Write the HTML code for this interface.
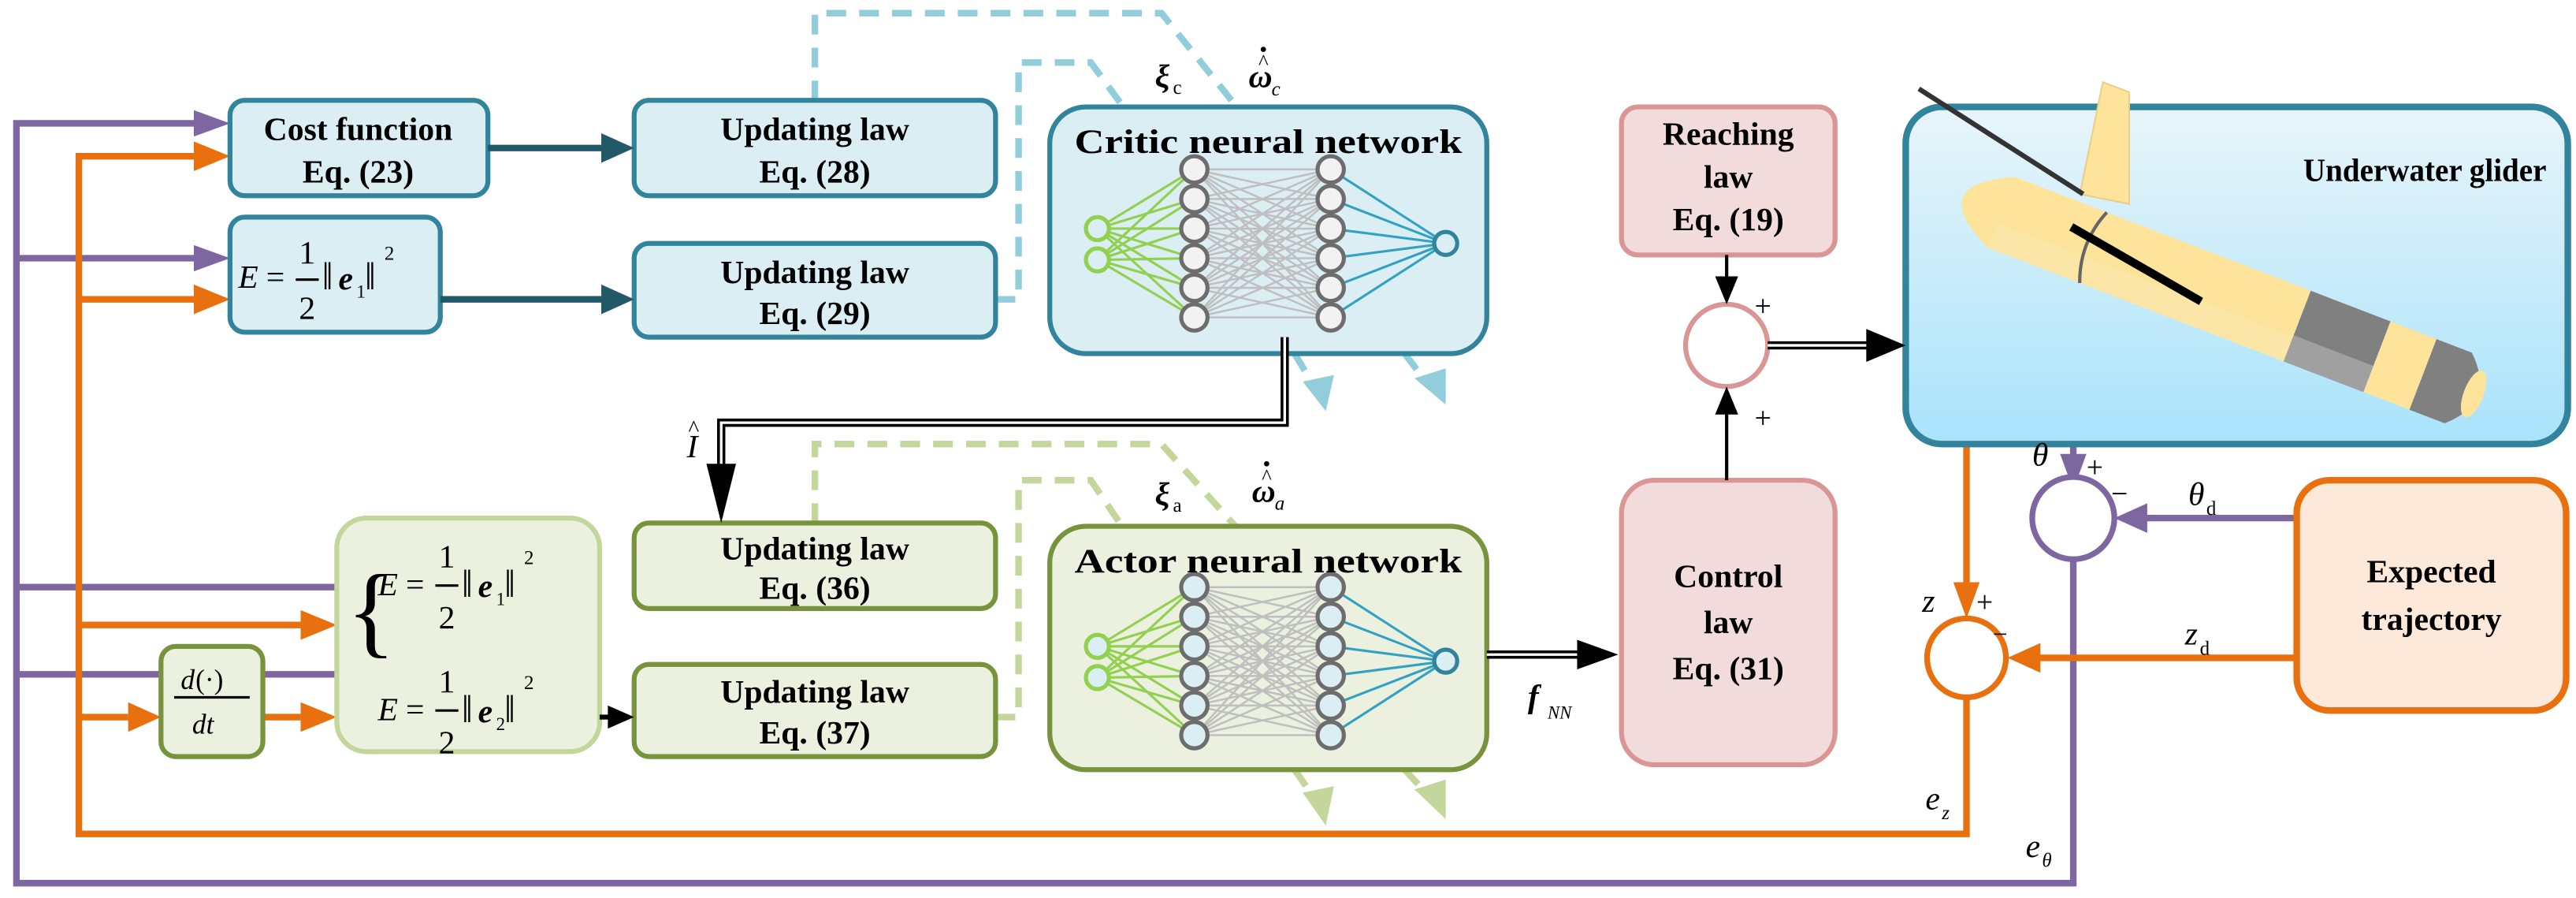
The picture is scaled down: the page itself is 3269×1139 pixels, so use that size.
<!DOCTYPE html>
<html><head><meta charset="utf-8"><style>
html,body{margin:0;padding:0;background:#fff;}
svg{display:block;}
</style></head><body>
<svg width="3269" height="1139" viewBox="0 0 1568 546" preserveAspectRatio="none" xmlns="http://www.w3.org/2000/svg" font-family="Liberation Serif, serif">
<defs>
<linearGradient id="gl" x1="0" y1="0" x2="0" y2="1"><stop offset="0" stop-color="#e8f5fa"/><stop offset="1" stop-color="#a9e3fb"/></linearGradient>
</defs>

<!-- purple feedback -->
<g stroke="#7e66a0" stroke-width="4" fill="none">
<polyline points="1262,340 1262,537 10,537 10,75 118,75"/>
<line x1="10" y1="157" x2="118" y2="157"/>
<line x1="10" y1="357" x2="205" y2="357"/>
<line x1="10" y1="410" x2="205" y2="410"/>
<line x1="1262" y1="270" x2="1262" y2="278"/>
<line x1="1398" y1="315" x2="1305" y2="315"/>
</g>
<g fill="#7e66a0">
<path d="M118,67 L140,75 L118,83z"/><path d="M118,149 L140,157 L118,165z"/>
<path d="M1254,276 L1270,276 L1262,298z"/>
<path d="M1307,306 L1307,324 L1287,315z"/>
</g>
<!-- orange feedback -->
<g stroke="#e8700f" stroke-width="4" fill="none">
<polyline points="1197,425 1197,507 48,507 48,95 118,95"/>
<line x1="48" y1="182" x2="118" y2="182"/>
<line x1="48" y1="380" x2="183" y2="380"/>
<line x1="48" y1="436" x2="78" y2="436"/>
<line x1="160" y1="436" x2="183" y2="436"/>
<line x1="1197" y1="270" x2="1197" y2="356"/>
<line x1="1398" y1="400" x2="1240" y2="400"/>
</g>
<g fill="#e8700f">
<path d="M118,86 L140,95 L118,104z"/><path d="M118,173 L140,182 L118,191z"/>
<path d="M183,371 L205,380 L183,389z"/><path d="M78,427 L98,436 L78,445z"/><path d="M183,427 L205,436 L183,445z"/>
<path d="M1189,354 L1205,354 L1197,376z"/>
<path d="M1242,391 L1242,409 L1222,400z"/>
</g>

<!-- dashed blue -->
<g stroke="#92cddc" stroke-width="4" fill="none" stroke-dasharray="12,8">
<polyline points="496,61 496,8 707,8 752,64"/>
<polyline points="606,182 620,182 620,38 664,38 683,64"/>
<line x1="788" y1="215" x2="800" y2="235"/>
<line x1="855" y1="215" x2="868" y2="232"/>
</g>
<g fill="#92cddc"><path d="M793,232 L812,228 L807,250z"/><path d="M861,230 L880,224 L880,246z"/></g>
<!-- dashed green -->
<g stroke="#c3d69b" stroke-width="4" fill="none" stroke-dasharray="12,8">
<polyline points="496,318 496,270 707,270 752,320"/>
<polyline points="606,436 620,436 620,292 664,292 683,320"/>
<line x1="788" y1="468" x2="800" y2="485"/>
<line x1="855" y1="468" x2="868" y2="482"/>
</g>
<g fill="#c3d69b"><path d="M793,482 L812,478 L807,502z"/><path d="M861,480 L880,474 L880,498z"/></g>

<!-- boxes blue -->
<g fill="#dbeef4" stroke="#31849b" stroke-width="3">
<rect x="140" y="61" width="157" height="58" rx="9"/>
<rect x="386" y="61" width="220" height="58" rx="9"/>
<rect x="140" y="132" width="128" height="70" rx="9"/>
<rect x="386" y="148" width="220" height="57" rx="9"/>
<rect x="639" y="65" width="266" height="150" rx="22"/>
</g>
<!-- boxes green -->
<g fill="#ebf1de" stroke="#77933c" stroke-width="3">
<rect x="386" y="318" width="220" height="52" rx="9"/>
<rect x="386" y="404" width="220" height="56" rx="9"/>
<rect x="98" y="393" width="62" height="67" rx="9"/>
<rect x="639" y="320" width="266" height="148" rx="22"/>
</g>
<rect x="205" y="315" width="160" height="142" rx="18" fill="#ebf1de" stroke="#c3d69b" stroke-width="3"/>
<!-- pink -->
<g fill="#f2dcdb" stroke="#d99694" stroke-width="3">
<rect x="987" y="65" width="130" height="90" rx="10"/>
<rect x="987" y="292" width="130" height="173" rx="20"/>
</g>
<circle cx="1051" cy="210" r="25" fill="#fff" stroke="#d99694" stroke-width="3"/>
<rect x="1160" y="65" width="403" height="205" rx="22" fill="url(#gl)" stroke="#31849b" stroke-width="4"/>
<rect x="1398" y="292" width="164" height="140" rx="20" fill="#fde9d9" stroke="#e8700f" stroke-width="4"/>
<circle cx="1262" cy="315" r="25" fill="#fff" stroke="#7e66a0" stroke-width="3.5"/>
<circle cx="1197" cy="400" r="24" fill="#fff" stroke="#e8700f" stroke-width="3.5"/>

<!-- dark arrows -->
<g stroke="#215968" stroke-width="4"><line x1="297" y1="90" x2="370" y2="90"/><line x1="268" y1="182" x2="370" y2="182"/></g>
<g fill="#215968"><path d="M366,81 L386,90 L366,99z"/><path d="M366,173 L386,182 L366,191z"/></g>
<g stroke="#000" stroke-width="2"><line x1="365" y1="436" x2="372" y2="436" stroke-width="3"/><line x1="1051" y1="155" x2="1051" y2="172"/><line x1="1051" y1="292" x2="1051" y2="250"/></g>
<g fill="#000"><path d="M370,429 L386,436 L370,443z"/><path d="M1044,168 L1058,168 L1051,185z"/><path d="M1044,252 L1058,252 L1051,235z"/></g>
<!-- double lines -->
<g stroke="#000" stroke-width="5" fill="none"><polyline points="782,205 782,257 439,257 439,285"/><line x1="905" y1="398" x2="962" y2="398"/><line x1="1076" y1="210" x2="1138" y2="210"/></g>
<g stroke="#fff" stroke-width="1.6" fill="none"><polyline points="782,205 782,257 439,257 439,283"/><line x1="905" y1="398" x2="962" y2="398"/><line x1="1076" y1="210" x2="1138" y2="210"/></g>
<g fill="#000"><path d="M430,282 L448,282 L439,318z"/><path d="M960,389 L985,398 L960,407z"/><path d="M1136,200 L1160,210 L1136,220z"/></g>

<!-- neural nets -->
<g>
<g stroke="#92d050" stroke-width="1.5">
<path d="M668,139L727,103M668,139L727,121M668,139L727,139M668,139L727,157M668,139L727,175M668,139L727,193M668,158L727,103M668,158L727,121M668,158L727,139M668,158L727,157M668,158L727,175M668,158L727,193"/>
</g>
<g stroke="#bfbfbf" stroke-width="1.2">
<path d="M727,103L810,103M727,103L810,121M727,103L810,139M727,103L810,157M727,103L810,175M727,103L810,193M727,121L810,103M727,121L810,121M727,121L810,139M727,121L810,157M727,121L810,175M727,121L810,193M727,139L810,103M727,139L810,121M727,139L810,139M727,139L810,157M727,139L810,175M727,139L810,193M727,157L810,103M727,157L810,121M727,157L810,139M727,157L810,157M727,157L810,175M727,157L810,193M727,175L810,103M727,175L810,121M727,175L810,139M727,175L810,157M727,175L810,175M727,175L810,193M727,193L810,103M727,193L810,121M727,193L810,139M727,193L810,157M727,193L810,175M727,193L810,193"/>
</g>
<g stroke="#31a2c4" stroke-width="1.5">
<path d="M810,103L880,148M810,121L880,148M810,139L880,148M810,157L880,148M810,175L880,148M810,193L880,148"/>
</g>
<g fill="#dbeef4" stroke-width="2.5"><circle cx="668" cy="139" r="7" stroke="#92d050"/><circle cx="668" cy="158" r="7" stroke="#92d050"/><circle cx="880" cy="148" r="7" stroke="#31849b"/></g>
<g fill="#f2f2f2" stroke="#6d6d6d" stroke-width="2.5">
<circle cx="727" cy="103" r="8"/><circle cx="727" cy="121" r="8"/><circle cx="727" cy="139" r="8"/><circle cx="727" cy="157" r="8"/><circle cx="727" cy="175" r="8"/><circle cx="727" cy="193" r="8"/>
<circle cx="810" cy="103" r="8"/><circle cx="810" cy="121" r="8"/><circle cx="810" cy="139" r="8"/><circle cx="810" cy="157" r="8"/><circle cx="810" cy="175" r="8"/><circle cx="810" cy="193" r="8"/>
</g>
</g>
<g transform="translate(0,254)">
<g stroke="#92d050" stroke-width="1.5">
<path d="M668,139L727,103M668,139L727,121M668,139L727,139M668,139L727,157M668,139L727,175M668,139L727,193M668,158L727,103M668,158L727,121M668,158L727,139M668,158L727,157M668,158L727,175M668,158L727,193"/>
</g>
<g stroke="#bfbfbf" stroke-width="1.2">
<path d="M727,103L810,103M727,103L810,121M727,103L810,139M727,103L810,157M727,103L810,175M727,103L810,193M727,121L810,103M727,121L810,121M727,121L810,139M727,121L810,157M727,121L810,175M727,121L810,193M727,139L810,103M727,139L810,121M727,139L810,139M727,139L810,157M727,139L810,175M727,139L810,193M727,157L810,103M727,157L810,121M727,157L810,139M727,157L810,157M727,157L810,175M727,157L810,193M727,175L810,103M727,175L810,121M727,175L810,139M727,175L810,157M727,175L810,175M727,175L810,193M727,193L810,103M727,193L810,121M727,193L810,139M727,193L810,157M727,193L810,175M727,193L810,193"/>
</g>
<g stroke="#31a2c4" stroke-width="1.5">
<path d="M810,103L880,148M810,121L880,148M810,139L880,148M810,157L880,148M810,175L880,148M810,193L880,148"/>
</g>
<g fill="#dbeef4" stroke-width="2.5"><circle cx="668" cy="139" r="7" stroke="#92d050"/><circle cx="668" cy="158" r="7" stroke="#92d050"/><circle cx="880" cy="148" r="7" stroke="#31849b"/></g>
<g fill="#dbeef4" stroke="#6d6d6d" stroke-width="2.5">
<circle cx="727" cy="103" r="8"/><circle cx="727" cy="121" r="8"/><circle cx="727" cy="139" r="8"/><circle cx="727" cy="157" r="8"/><circle cx="727" cy="175" r="8"/><circle cx="727" cy="193" r="8"/>
<circle cx="810" cy="103" r="8"/><circle cx="810" cy="121" r="8"/><circle cx="810" cy="139" r="8"/><circle cx="810" cy="157" r="8"/><circle cx="810" cy="175" r="8"/><circle cx="810" cy="193" r="8"/>
</g>
</g>

<!-- glider -->
<polygon points="1266,118 1280,50 1296,56 1296,124" fill="#fde49a" stroke="#e8d08a" stroke-width="1"/>
<g transform="translate(1208,122) rotate(21)">
<path d="M12,-20 L205,-20 L205,26 L12,26 Q-38,3 12,-20z" fill="#fde49a"/>
<path d="M12,10 L205,10 L205,26 L12,26z" fill="#fbe6a8"/>
<rect x="205" y="-20" width="52" height="46" fill="#808080"/>
<rect x="205" y="9" width="52" height="17" fill="#a0a0a0"/>
<rect x="257" y="-20" width="30" height="46" fill="#fde49a"/>
<path d="M287,-20 L310,-20 Q335,3 310,26 L287,26z" fill="#808080"/>
<ellipse cx="320" cy="3" rx="6" ry="15" fill="#fde49a"/>
<path d="M72,-20 Q63,3 72,26" stroke="#666" stroke-width="2" fill="none"/>
<line x1="55" y1="-4" x2="145" y2="10" stroke="#000" stroke-width="5"/>
</g>
<line x1="1168" y1="54" x2="1268" y2="118" stroke="#333" stroke-width="3"/>

<!-- text -->
<g font-family="Liberation Serif, serif" font-weight="bold" font-size="20" text-anchor="middle">
<text x="218" y="85">Cost function</text>
<text x="218" y="111">Eq. (23)</text>
<text x="496" y="85">Updating law</text>
<text x="496" y="111">Eq. (28)</text>
<text x="496" y="172">Updating law</text>
<text x="496" y="197">Eq. (29)</text>
<text x="496" y="340">Updating law</text>
<text x="496" y="364">Eq. (36)</text>
<text x="496" y="427">Updating law</text>
<text x="496" y="452">Eq. (37)</text>
<text x="772" y="93" font-size="21" textLength="236" lengthAdjust="spacingAndGlyphs">Critic neural network</text>
<text x="772" y="348" font-size="21" textLength="236" lengthAdjust="spacingAndGlyphs">Actor neural network</text>
<text x="1052" y="88">Reaching</text>
<text x="1052" y="114">law</text>
<text x="1052" y="140">Eq. (19)</text>
<text x="1052" y="357">Control</text>
<text x="1052" y="385">law</text>
<text x="1052" y="413">Eq. (31)</text>
<text x="1480" y="354">Expected</text>
<text x="1480" y="383">trajectory</text>
<text x="1476" y="110" textLength="148" lengthAdjust="spacingAndGlyphs">Underwater glider</text>
</g>
<!-- math -->
<g font-family="Liberation Serif, serif" font-size="20">
<text x="145" y="175" font-style="italic">E</text><text x="162" y="175">=</text>
<text x="182" y="160">1</text><line x1="180" y1="170" x2="194" y2="170" stroke="#000" stroke-width="1.5"/><text x="182" y="194">2</text>
<text x="196" y="176" font-size="24">‖</text><text x="206" y="176" font-style="italic" font-weight="bold">e</text><text x="217" y="181" font-size="11">1</text><text x="222" y="176" font-size="24">‖</text><text x="234" y="158" font-size="12">2</text>

<text x="211" y="392" font-size="62" font-weight="100" transform="scale(1,1)">{</text>
<text x="230" y="362" font-style="italic">E</text><text x="247" y="362">=</text>
<text x="267" y="345">1</text><line x1="265" y1="356" x2="279" y2="356" stroke="#000" stroke-width="1.5"/><text x="267" y="382">2</text>
<text x="281" y="363" font-size="24">‖</text><text x="291" y="363" font-style="italic" font-weight="bold">e</text><text x="302" y="368" font-size="11">1</text><text x="307" y="363" font-size="24">‖</text><text x="319" y="343" font-size="12">2</text>
<text x="230" y="438" font-style="italic">E</text><text x="247" y="438">=</text>
<text x="267" y="421">1</text><line x1="265" y1="432" x2="279" y2="432" stroke="#000" stroke-width="1.5"/><text x="267" y="458">2</text>
<text x="281" y="439" font-size="24">‖</text><text x="291" y="439" font-style="italic" font-weight="bold">e</text><text x="302" y="444" font-size="11">2</text><text x="307" y="439" font-size="24">‖</text><text x="319" y="419" font-size="12">2</text>

<text x="110" y="419" font-style="italic" font-size="17">d</text><text x="119" y="419" font-size="17">(·)</text>
<line x1="106" y1="424" x2="152" y2="424" stroke="#000" stroke-width="1.5"/>
<text x="117" y="446" font-style="italic" font-size="17">dt</text>

<text x="418" y="278" font-style="italic">I</text><text x="419" y="265" font-size="14">^</text>
<text x="703" y="53" font-style="italic" font-weight="bold">ξ</text><text x="714" y="57" font-size="12">c</text>
<text x="760" y="53" font-style="italic" font-weight="bold">ω</text><text x="766" y="42" font-size="13">^</text><circle cx="769" cy="30" r="1.6" fill="#000"/><text x="774" y="58" font-size="12" font-style="italic">c</text>
<text x="703" y="307" font-style="italic" font-weight="bold">ξ</text><text x="714" y="311" font-size="12">a</text>
<text x="762" y="305" font-style="italic" font-weight="bold">ω</text><text x="768" y="294" font-size="13">^</text><circle cx="771" cy="282" r="1.6" fill="#000"/><text x="776" y="310" font-size="12" font-style="italic">a</text>
<text x="930" y="430" font-style="italic" font-weight="bold">f</text><text x="942" y="437" font-size="11" font-style="italic">NN</text>
<text x="1068" y="192" font-size="18">+</text><text x="1068" y="260" font-size="18">+</text>
<text x="1237" y="283" font-style="italic">θ</text><text x="1270" y="290" font-size="18">+</text><text x="1285" y="306" font-size="18">−</text>
<text x="1332" y="307" font-style="italic">θ</text><text x="1343" y="313" font-size="12">d</text>
<text x="1170" y="372" font-style="italic">z</text><text x="1203" y="372" font-size="18">+</text><text x="1213" y="391" font-size="16">−</text>
<text x="1330" y="392" font-style="italic">z</text><text x="1339" y="398" font-size="12">d</text>
<text x="1172" y="492" font-style="italic">e</text><text x="1182" y="498" font-size="12" font-style="italic">z</text>
<text x="1233" y="521" font-style="italic">e</text><text x="1243" y="527" font-size="12" font-style="italic">θ</text>
</g>
</svg>
</body></html>
